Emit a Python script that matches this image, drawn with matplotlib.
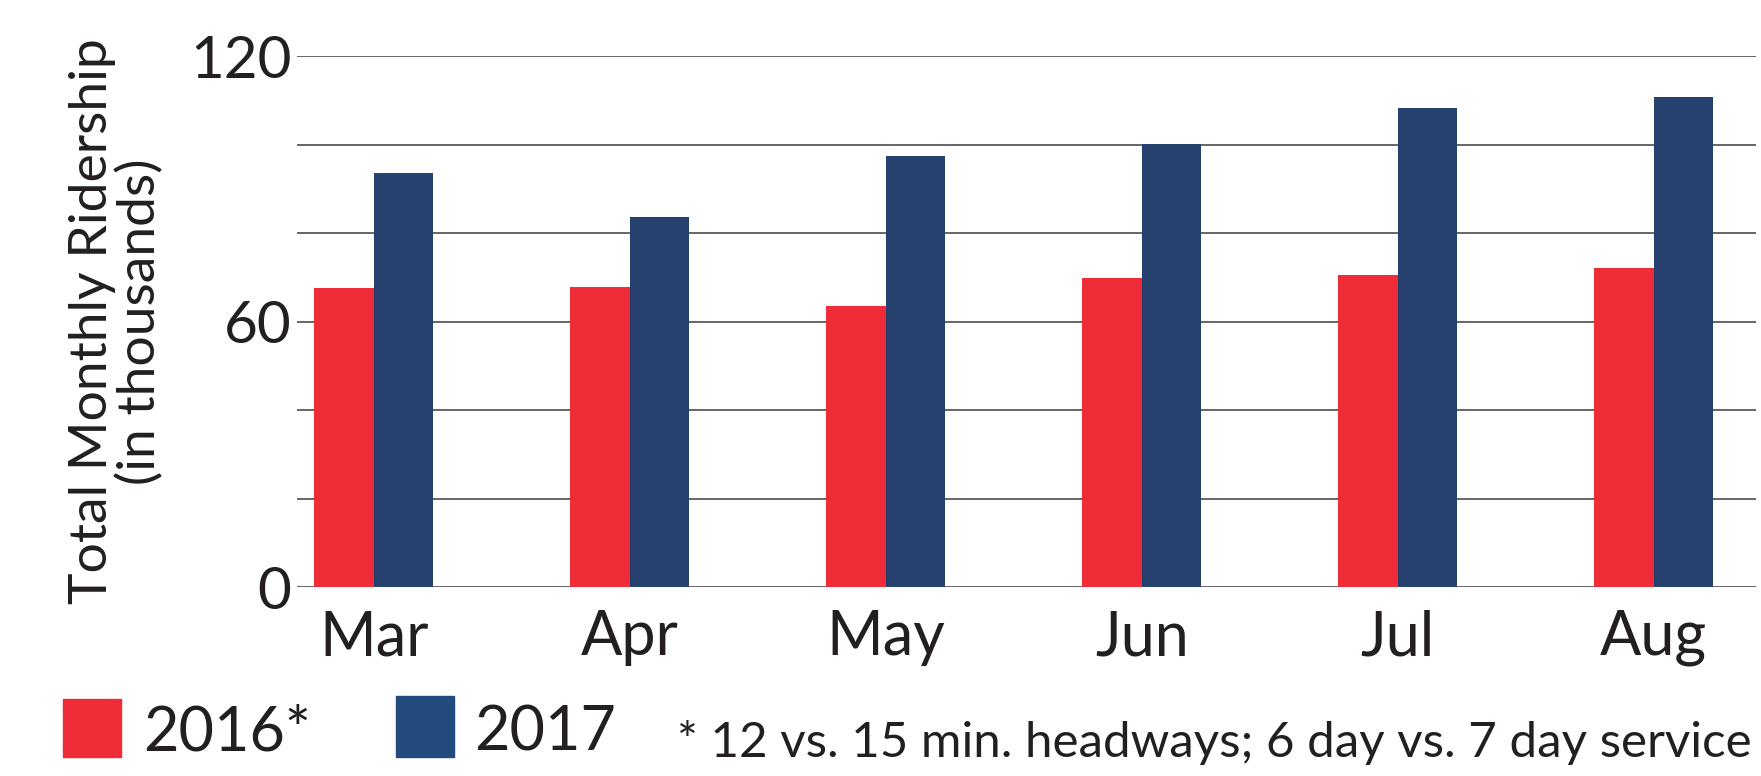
import numpy as np
import matplotlib
matplotlib.use('Agg')
import matplotlib.pyplot as plt
from matplotlib import font_manager
from matplotlib.patches import Rectangle

# ridership by month, in thousands
months = ['Mar', 'Apr', 'May', 'Jun', 'Jul', 'Aug']
r2016 = [67.7, 67.9, 63.6, 69.8, 70.5, 72.2]
r2017 = [93.6, 83.6, 97.4, 100.2, 108.3, 110.8]
yticks = [0, 20, 40, 60, 80, 100, 120]
ylabels = ['0', '', '', '60', '', '', '120']
series_names = ['2016*', '2017']
footnote = '* 12 vs. 15 min. headways; 6 day vs. 7 day service'

red = '#EF2D38'
blue = '#26416D'
blue_leg = '#224A7C'
txt = '#231F20'

installed = {f.name for f in font_manager.fontManager.ttflist}
plt.rcParams['font.family'] = ['Lato', 'DejaVu Sans']
narrow = 'Liberation Sans Narrow' if 'Liberation Sans Narrow' in installed else 'Lato'

fig = plt.figure(figsize=(17.61, 7.76), dpi=100)
ax = fig.add_axes([0.1687, 0.2432, 0.8285, 0.6846])

x = np.arange(len(months))
w = 0.232
ax.bar(x - w / 2, r2016, w, color=red, zorder=3)
ax.bar(x + w / 2, r2017, w, color=blue, zorder=3)

ax.set_xlim(-0.30, 5.40)
ax.set_ylim(0, 120)
ax.set_yticks(yticks)
ax.set_yticklabels(ylabels, fontsize=42, color=txt)
ax.set_xticks(x)
ax.set_xticklabels(months, fontsize=44, color=txt)
ax.tick_params(axis='both', length=0)
ax.tick_params(axis='y', pad=4)
ax.tick_params(axis='x', pad=16)
ax.yaxis.grid(True, color='#5a5a5a', lw=1.3)
ax.set_axisbelow(True)
for s in ax.spines.values():
    s.set_visible(False)

fig.text(0.066, 0.586, 'Total Monthly Ridership\n(in thousands)', rotation=90,
         ha='center', va='center', multialignment='center', fontsize=38.5,
         color=txt, linespacing=1.0)

# legend
fig.patches.append(Rectangle((0.0358, 0.0245), 0.0329, 0.0747, color=red,
                             transform=fig.transFigure, figure=fig))
fig.patches.append(Rectangle((0.2249, 0.0245), 0.0329, 0.0786, color=blue_leg,
                             transform=fig.transFigure, figure=fig))
fig.text(0.0815, 0.0335, series_names[0], fontsize=44, color=txt, va='baseline')
fig.text(0.2695, 0.0335, series_names[1], fontsize=44, color=txt, va='baseline')

fig.text(0.9949, 0.0249, footnote, fontsize=35.5, color=txt, va='baseline',
         ha='right', family=narrow)

fig.savefig('out.png', dpi=100)
